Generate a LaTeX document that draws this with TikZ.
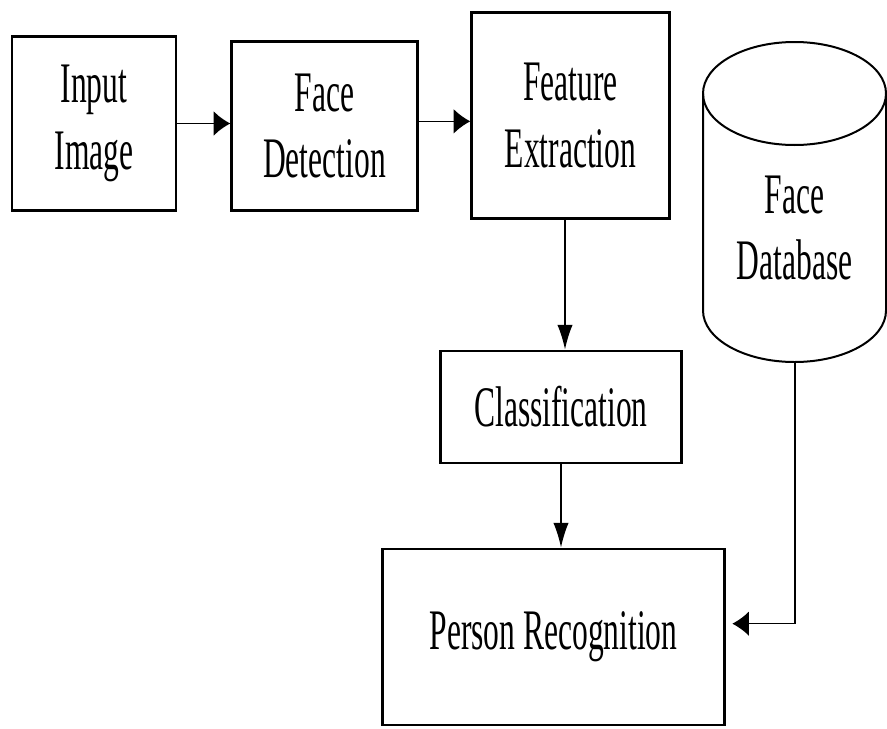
\documentclass[tikz,border=0pt]{standalone}
\usepackage{fontspec}
\setmainfont{Liberation Serif}[FakeStretch=0.55]
\usetikzlibrary{arrows.meta}

\tikzset{
  stage/.style={draw, line width=2.2pt, inner sep=0pt, align=center,
    font=\fontsize{43}{50}\selectfont},
  harr/.style={line width=1.1pt, -{Latex[length=12.5pt,width=18.5pt]}},
  varr/.style={line width=1.1pt, -{Latex[length=18.5pt,width=11.5pt]}}
}

\begin{document}
\begin{tikzpicture}[x=0.75pt, y=-0.75pt]
	\useasboundingbox (0,0) rectangle (887,728);
	% processing stages
	\node[stage, minimum width=123pt, minimum height=131pt] (inp) at (94,123.5) {Input\\Image};
	\node[stage, minimum width=139pt, minimum height=127pt] (det) at (324.5,126) {Face\\Detection};
	\node[stage, minimum width=148pt, minimum height=155pt] (feat) at (570.5,115.5) {Feature\\Extraction};
	\node[stage, minimum width=181pt, minimum height=84pt] (cls) at (561,407) {Classification};
	\node[stage, minimum width=256pt, minimum height=132pt] (rec) at (553.5,637) {Person Recognition};
	% database cylinder
	\draw[line width=1.5pt] (703,93.5) -- (703,310.5)
		arc[start angle=180, end angle=0, x radius=91.5, y radius=51.5] -- (886,93.5);
	\draw[line width=1.5pt] (794.5,93.5) ellipse[x radius=91.5, y radius=51.5];
	\node[font=\fontsize{43}{50}\selectfont, align=center] (db) at (794.5,228) {Face\\Database};
	\coordinate (dbbot) at (795,362);
	% connectors
	\draw[harr] (inp.east) -- (det.west |- inp.east);
	\draw[harr] ([yshift=3.5pt]det.east) -- ([yshift=3.5pt]det.east -| feat.west);
	\draw[varr] (feat.south -| 565,0) -- (cls.north -| 565,0);
	\draw[varr] (cls.south) -- (cls.south |- rec.north);
	\draw[harr, line width=0.9pt, shorten >=5pt] (dbbot) |- ([yshift=10pt]rec.east);
\end{tikzpicture}
\end{document}
